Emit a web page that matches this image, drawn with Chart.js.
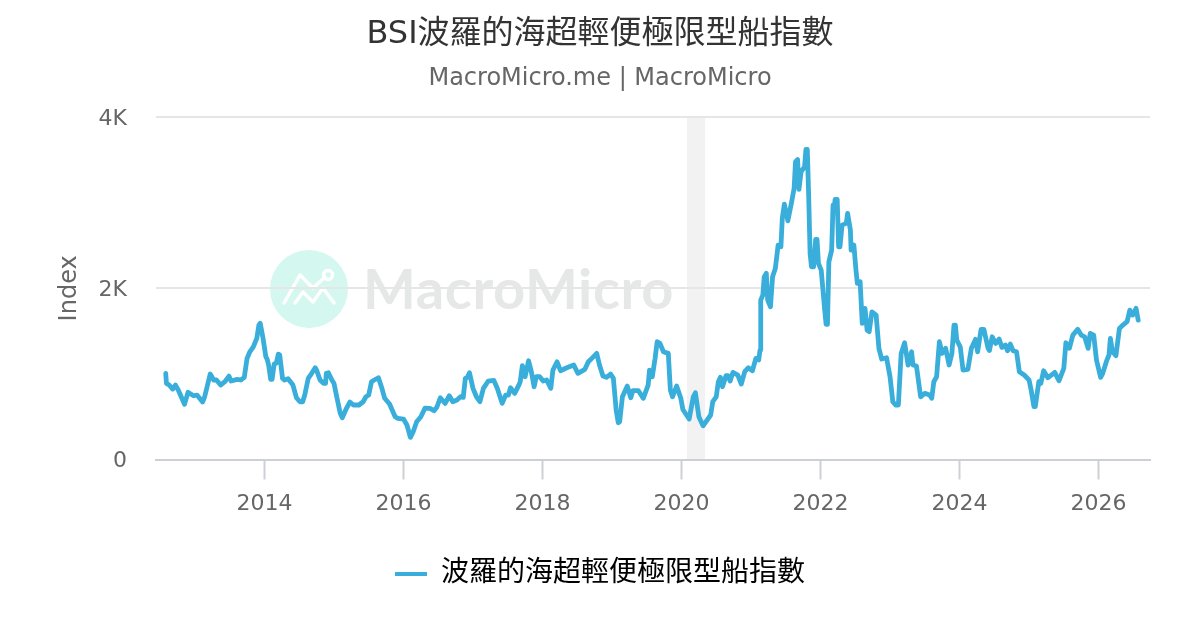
<!DOCTYPE html>
<html lang="zh-Hant">
<head>
<meta charset="UTF-8">
<title>BSI波羅的海超輕便極限型船指數</title>
<script src="https://cdn.jsdelivr.net/npm/chart.js"></script>
<style>
    html, body { margin: 0; padding: 0; background: #fff; }
    canvas { display: block; }
</style>
</head>
<body>
<canvas id="plot" width="1200" height="630"></canvas>
<script>
const chartTitle = 'BSI波羅的海超輕便極限型船指數';
const chartSubtitle = 'MacroMicro.me | MacroMicro';
const seriesName = '波羅的海超輕便極限型船指數';
const yTitle = 'Index';
const xTicks = [2014, 2016, 2018, 2020, 2022, 2024, 2026];
const yTicks = [0, 2000, 4000];
const recession = [2020.08, 2020.34];

const years = [
    2012.58,2012.59,2012.63,2012.68,2012.72,2012.76,2012.85,2012.90,2012.98,2013.03,2013.11,2013.14,2013.22,2013.27,2013.31,2013.37,2013.43,2013.49,2013.52,2013.61,
    2013.66,2013.71,2013.75,2013.79,2013.84,2013.89,2013.92,2013.94,2013.98,2014.02,2014.04,2014.06,2014.09,2014.11,2014.14,2014.17,2014.20,2014.22,2014.26,2014.29,
    2014.34,2014.41,2014.46,2014.51,2014.55,2014.58,2014.63,2014.68,2014.73,2014.75,2014.80,2014.85,2014.88,2014.89,2014.92,2014.97,2015.00,2015.05,2015.09,2015.12,
    2015.18,2015.23,2015.28,2015.36,2015.42,2015.46,2015.50,2015.54,2015.58,2015.64,2015.69,2015.73,2015.80,2015.88,2015.92,2016.00,2016.05,2016.10,2016.14,2016.19,
    2016.25,2016.31,2016.38,2016.44,2016.48,2016.53,2016.60,2016.66,2016.71,2016.77,2016.82,2016.86,2016.89,2016.92,2016.95,2017.00,2017.05,2017.10,2017.15,2017.22,
    2017.30,2017.35,2017.42,2017.47,2017.51,2017.54,2017.60,2017.66,2017.68,2017.71,2017.75,2017.80,2017.84,2017.88,2017.91,2017.96,2018.01,2018.06,2018.12,2018.15,
    2018.21,2018.26,2018.35,2018.45,2018.51,2018.61,2018.66,2018.71,2018.78,2018.82,2018.87,2018.92,2018.98,2019.02,2019.06,2019.09,2019.11,2019.15,2019.22,2019.27,
    2019.30,2019.38,2019.45,2019.52,2019.54,2019.58,2019.62,2019.65,2019.69,2019.74,2019.81,2019.84,2019.87,2019.93,2019.99,2020.02,2020.11,2020.17,2020.20,2020.25,
    2020.31,2020.42,2020.45,2020.50,2020.53,2020.56,2020.59,2020.64,2020.67,2020.70,2020.74,2020.81,2020.86,2020.91,2020.96,2021.02,2021.07,2021.11,2021.13,2021.14,
    2021.17,2021.19,2021.22,2021.24,2021.28,2021.31,2021.35,2021.39,2021.43,2021.45,2021.48,2021.53,2021.58,2021.62,2021.64,2021.67,2021.69,2021.72,2021.77,2021.79,
    2021.81,2021.83,2021.85,2021.87,2021.90,2021.93,2021.95,2021.97,2022.01,2022.06,2022.08,2022.10,2022.12,2022.16,2022.18,2022.20,2022.21,2022.24,2022.26,2022.28,
    2022.31,2022.37,2022.39,2022.43,2022.44,2022.48,2022.51,2022.53,2022.57,2022.60,2022.64,2022.67,2022.70,2022.74,2022.80,2022.84,2022.88,2022.95,2023.00,2023.04,
    2023.08,2023.12,2023.16,2023.21,2023.26,2023.31,2023.33,2023.38,2023.44,2023.50,2023.57,2023.60,2023.63,2023.67,2023.71,2023.75,2023.80,2023.85,2023.89,2023.92,
    2023.94,2023.96,2024.01,2024.05,2024.12,2024.17,2024.23,2024.26,2024.31,2024.35,2024.41,2024.43,2024.47,2024.52,2024.57,2024.61,2024.66,2024.69,2024.73,2024.77,
    2024.82,2024.86,2024.93,2025.00,2025.03,2025.07,2025.09,2025.14,2025.17,2025.21,2025.27,2025.37,2025.43,2025.50,2025.53,2025.58,2025.63,2025.70,2025.75,2025.80,
    2025.85,2025.88,2025.93,2025.97,2026.03,2026.06,2026.12,2026.15,2026.17,2026.20,2026.25,2026.30,2026.35,2026.41,2026.45,2026.49,2026.54,2026.57
];
const bsi = [
    1007,890,870,823,870,812,645,785,745,753,672,733,999,929,929,870,909,975,917,937,
    929,960,1182,1259,1317,1416,1571,1591,1416,1201,1170,1104,937,937,1115,1124,1232,1221,948,929,
    944,870,722,675,675,753,948,1007,1072,1045,929,890,890,1007,1014,929,890,695,540,488,
    598,672,637,637,675,733,753,909,929,955,832,715,648,500,481,473,403,259,325,441,
    500,601,598,570,610,722,656,745,675,695,733,726,948,960,1014,832,733,675,832,917,
    925,832,656,753,753,839,773,870,909,1096,967,1154,1026,850,967,967,917,929,832,1045,
    1142,1037,1072,1104,1007,1054,1142,1182,1240,1104,975,960,999,948,578,430,441,733,858,722,
    804,804,715,870,1045,967,1182,1376,1357,1259,1240,812,733,858,715,584,473,733,780,500,
    394,520,675,733,909,960,850,979,979,917,1018,987,882,1026,1072,1037,1182,1162,1279,1863,
    1921,2132,2175,1863,1785,2135,2233,2505,2486,2817,2984,2789,2992,3168,3478,3506,3156,3361,3420,3623,
    3623,3070,2408,2252,2252,2572,2572,2292,2213,1746,1579,1579,2310,2447,2973,2973,3039,3039,2486,2486,
    2739,2759,2876,2681,2447,2505,2213,2058,2077,1591,1766,1513,1493,1726,1688,1299,1174,1189,967,675,
    637,637,1240,1364,1104,1259,1104,1092,733,773,753,715,909,967,1376,1240,1299,1104,1240,1571,
    1571,1396,1317,1045,1054,1299,1404,1259,1521,1521,1299,1273,1434,1357,1407,1310,1337,1271,1349,1271,
    1259,1026,987,929,812,617,617,909,890,1037,955,1018,920,1065,1364,1299,1454,1521,1454,1434,
    1299,1474,1454,1162,960,1007,1162,1221,1416,1259,1212,1532,1571,1610,1746,1688,1766,1629
];

const fontFamily = '"DejaVu Sans", "Noto Sans CJK TC", sans-serif';

// logo behind the gridlines, recession band behind the line
const backdrop = {
    id: 'backdrop',
    beforeDraw(chart) {
        const ctx = chart.ctx;
        ctx.save();
        ctx.fillStyle = '#d4f7f0';
        ctx.beginPath();
        ctx.arc(309, 289, 39, 0, Math.PI * 2);
        ctx.fill();

        ctx.strokeStyle = '#fff';
        ctx.lineWidth = 3.5;
        ctx.lineCap = 'round';
        ctx.lineJoin = 'round';
        ctx.beginPath();
        ctx.moveTo(284, 303);
        ctx.lineTo(300, 275);
        ctx.lineTo(313, 288);
        ctx.lineTo(325, 277);
        ctx.moveTo(295, 303);
        ctx.lineTo(303, 292);
        ctx.lineTo(313, 302);
        ctx.lineTo(323, 288);
        ctx.lineTo(334, 303);
        ctx.stroke();
        ctx.beginPath();
        ctx.arc(328, 275, 4.5, 0, Math.PI * 2);
        ctx.stroke();

        ctx.fillStyle = '#e6e8e8';
        ctx.font = 'bold 56px Lato, sans-serif';
        ctx.textBaseline = 'alphabetic';
        ctx.textAlign = 'left';
        ctx.letterSpacing = '0.6px';
        ctx.fillText('MacroMicro', 363, 309);
        ctx.restore();

        const x = chart.scales.x;
        const area = chart.chartArea;
        const left = x.getPixelForValue(recession[0]);
        const right = x.getPixelForValue(recession[1]);
        ctx.save();
        ctx.fillStyle = '#f2f2f2';
        ctx.fillRect(left, area.top, right - left, area.bottom - area.top);
        ctx.restore();
    }
};

new Chart(document.getElementById('plot'), {
    type: 'line',
    data: {
        labels: years,
        datasets: [{
            label: seriesName,
            data: years.map((y, i) => ({ x: y, y: bsi[i] })),
            borderColor: '#39aedb',
            backgroundColor: '#39aedb',
            borderWidth: 4.8,
            borderJoinStyle: 'round',
            borderCapStyle: 'round',
            pointRadius: 0,
            tension: 0
        }]
    },
    options: {
        responsive: false,
        animation: false,
        layout: { padding: { left: 50, right: 50, top: 0, bottom: 32 } },
        plugins: {
            title: {
                display: true,
                text: chartTitle,
                color: '#333',
                font: { family: fontFamily, size: 32, weight: 'normal' },
                padding: { top: 15, bottom: 11 }
            },
            subtitle: {
                display: true,
                text: chartSubtitle,
                color: '#666',
                font: { family: fontFamily, size: 24, weight: 'normal' },
                padding: { top: 0, bottom: 24 }
            },
            legend: {
                position: 'bottom',
                labels: {
                    usePointStyle: true,
                    pointStyle: 'line',
                    pointStyleWidth: 32,
                    padding: 10,
                    color: '#000',
                    font: { family: fontFamily, size: 28 },
                    generateLabels: chart => Chart.defaults.plugins.legend.labels.generateLabels(chart).map(l => ({ ...l, lineWidth: 4 }))
                }
            },
            tooltip: { enabled: false }
        },
        scales: {
            x: {
                type: 'linear',
                min: 2012.44,
                max: 2026.74,
                afterBuildTicks: axis => { axis.ticks = xTicks.map(v => ({ value: v })); },
                afterFit: axis => { axis.height = 90.5; },
                grid: { drawOnChartArea: false, tickLength: 20, tickColor: '#ccd0d4', tickWidth: 2 },
                border: { color: '#ccd0d4', width: 2 },
                ticks: {
                    color: '#666',
                    maxRotation: 0,
                    padding: 12,
                    font: { family: fontFamily, size: 22 },
                    callback: v => String(v)
                }
            },
            y: {
                min: 0,
                max: 4000,
                afterBuildTicks: axis => { axis.ticks = yTicks.map(v => ({ value: v })); },
                afterFit: axis => { axis.width = 106; },
                title: {
                    display: true,
                    text: yTitle,
                    color: '#666',
                    font: { family: fontFamily, size: 24 },
                    padding: { top: 5, bottom: 20 }
                },
                grid: { color: '#e6e6e6', lineWidth: 2, tickLength: 0 },
                border: { display: false },
                ticks: {
                    color: '#666',
                    padding: 29,
                    labelOffset: 2,
                    font: { family: fontFamily, size: 22 },
                    callback: v => (v === 0 ? '0' : (v / 1000) + 'K')
                }
            }
        }
    },
    plugins: [backdrop]
});
</script>
</body>
</html>
